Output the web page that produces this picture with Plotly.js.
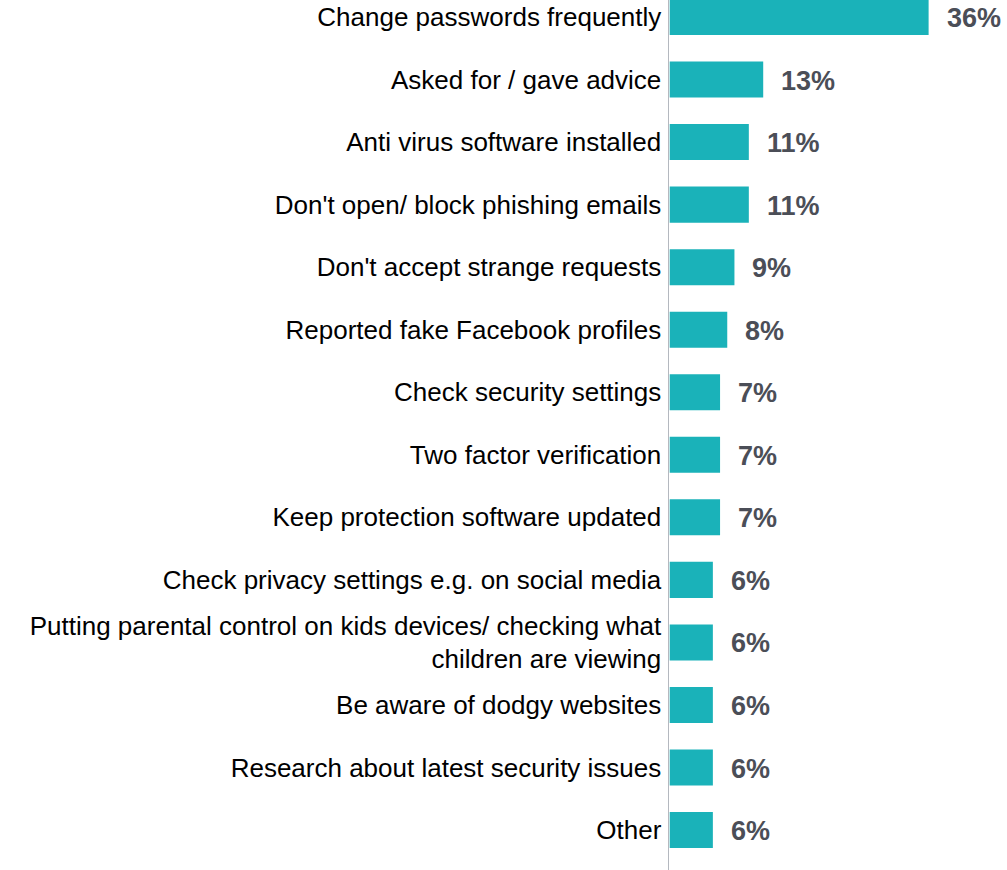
<!DOCTYPE html>
<html>
<head>
<meta charset="utf-8">
<script src="https://cdn.plot.ly/plotly-3.0.1.min.js"></script>
<style>html,body{margin:0;padding:0;background:#fff;}#chart{width:1007px;height:870px;}</style>
</head>
<body>
<div id="chart"></div>
<script>
const categories = [
  "Change passwords frequently",
  "Asked for / gave advice",
  "Anti virus software installed",
  "Don't open/ block phishing emails",
  "Don't accept strange requests",
  "Reported fake Facebook profiles",
  "Check security settings",
  "Two factor verification",
  "Keep protection software updated",
  "Check privacy settings e.g. on social media",
  "Putting parental control on kids devices/ checking what<br>children are viewing",
  "Be aware of dodgy websites",
  "Research about latest security issues",
  "Other"
];
const values = [36, 13, 11, 11, 9, 8, 7, 7, 7, 6, 6, 6, 6, 6];
const valueLabels = values.map(v => v + "%");

const trace = {
  type: "bar",
  orientation: "h",
  y: categories,
  x: values,
  marker: {color: "#1AB2B9", line: {width: 0}},
  hoverinfo: "none"
};

const annotations = categories.map((c, i) => ({
  x: values[i], y: c, xref: "x", yref: "y",
  text: valueLabels[i], showarrow: false,
  xanchor: "left", yanchor: "middle", xshift: 16, yshift: -1,
  font: {family: "Liberation Sans, Arial, sans-serif", size: 27, color: "#4B4E57", weight: "bold"}
}));

const layout = {
  width: 1007, height: 870,
  margin: {l: 669, r: 0, t: 0, b: 0, pad: 0},
  paper_bgcolor: "#ffffff", plot_bgcolor: "#ffffff",
  showlegend: false,
  bargap: 0.424,
  xaxis: {range: [-0.1, 46.9], visible: false, fixedrange: true},
  yaxis: {
    type: "category",
    range: [13.639, -0.272],
    showline: true, linecolor: "#B4B8BF", linewidth: 1.5,
    showgrid: false, zeroline: false,
    ticks: "", ticklabelstandoff: 1,
    tickfont: {family: "Liberation Sans, Arial, sans-serif", size: 26, color: "#000000"},
    fixedrange: true
  },
  annotations: annotations
};

Plotly.newPlot("chart", [trace], layout, {displayModeBar: false, staticPlot: true});
</script>
</body>
</html>
